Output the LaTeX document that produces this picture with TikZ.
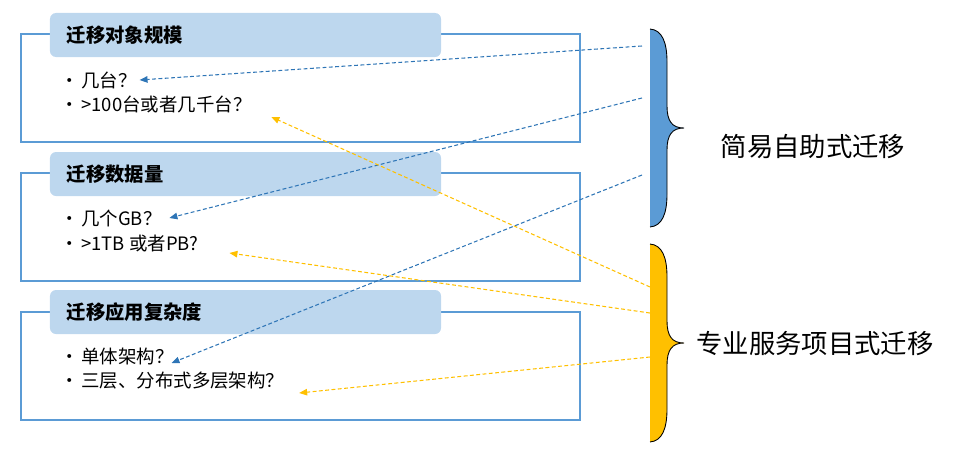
\documentclass[tikz,border=0pt]{standalone}
\usepackage{fontspec}
\setmainfont{Noto Sans CJK SC}
\usetikzlibrary{arrows.meta}
\definecolor{colbox}{HTML}{5B9BD5}
\definecolor{coltit}{HTML}{BDD7EE}
\definecolor{colln}{HTML}{2E75B6}
\definecolor{colgd}{HTML}{FFC000}
\tikzset{
  obox/.style={draw=colbox, line width=0.7pt, fill=none,
               minimum width=111.8mm, minimum height=21.6mm, inner sep=0pt},
  tbox/.style={fill=coltit, rounded corners=1.2mm, draw=none,
               minimum width=78.2mm, minimum height=8.8mm, inner xsep=3.4mm,
               text width=71.4mm, align=left,
               font=\fontsize{11}{13}\selectfont\bfseries},
  item/.style={anchor=west, inner ysep=0pt, inner xsep=1.5mm,
               font=\fontsize{10.5}{13}\selectfont},
  blbl/.style={font=\fontsize{15}{18}\selectfont},
  brc/.style={fill=#1},
  brl/.style={draw=black, line width=0.5pt},
  dar/.style={-{Triangle[length=1.6mm, width=1.3mm]}, #1,
              line width=0.6pt, dash pattern=on 2.2pt off 1.4pt},
}
\newcommand\bul{\makebox[4.2mm][l]{\textbullet}}
\def\Xbox{300.5}
\def\Xtit{245.5}
\def\Xitm{52.5}

\begin{document}
\begin{tikzpicture}[x=0.2mm, y=-0.2mm]
\useasboundingbox (0,0) rectangle (970,448);

%% ============================================================
%% LEFT: THREE QUESTION BOXES
%% ============================================================

%% --- 1. object scale ---
\node[obox] (box1) at (\Xbox, 88) {};
\node[tbox] (t1) at (\Xtit, 35) {迁移对象规模};
\node[item] (b11) at (\Xitm, 80)  {\bul 几台？};
\node[item] (b12) at (\Xitm, 104) {\bul >100台或者几千台？};

%% --- 2. data volume ---
\node[obox] (box2) at (\Xbox, 227) {};
\node[tbox] (t2) at (\Xtit, 174) {迁移数据量};
\node[item] (b21) at (\Xitm, 218) {\bul 几个GB？};
\node[item] (b22) at (\Xitm, 243) {\bul >1TB 或者PB?};

%% --- 3. application complexity ---
\node[obox] (box3) at (\Xbox, 366) {};
\node[tbox] (t3) at (\Xtit, 312) {迁移应用复杂度};
\node[item] (b31) at (\Xitm, 356) {\bul 单体架构？};
\node[item] (b32) at (\Xitm, 381) {\bul 三层、分布式多层架构？};


%% ============================================================
%% RIGHT: TWO BRACES + LABELS
%% ============================================================

%% blue brace, tip at y = 128
\fill[brc=colbox] (650,29) .. controls (662,30) and (667,42) .. (667,62)
  -- (667,106) .. controls (667,121) and (672,128) .. (684,128)
  .. controls (672,128) and (667,135) .. (667,150)
  -- (667,194) .. controls (667,214) and (662,226) .. (650,227) -- cycle;
\draw[brl] (650,29) .. controls (662,30) and (667,42) .. (667,62)
  -- (667,106) .. controls (667,121) and (672,128) .. (684,128)
  .. controls (672,128) and (667,135) .. (667,150)
  -- (667,194) .. controls (667,214) and (662,226) .. (650,227);
\node[blbl] (lblS) at (813, 147) {简易自助式迁移};

%% yellow brace, tip at y = 343
\fill[brc=colgd] (650,244) .. controls (662,245) and (667,257) .. (667,277)
  -- (667,321) .. controls (667,336) and (672,343) .. (684,343)
  .. controls (672,343) and (667,350) .. (667,365)
  -- (667,409) .. controls (667,429) and (662,441) .. (650,442) -- cycle;
\draw[brl] (650,244) .. controls (662,245) and (667,257) .. (667,277)
  -- (667,321) .. controls (667,336) and (672,343) .. (684,343)
  .. controls (672,343) and (667,350) .. (667,365)
  -- (667,409) .. controls (667,429) and (662,441) .. (650,442);
\node[blbl] (lblP) at (815, 344) {专业服务项目式迁移};

%% arrow start points at the braces
\coordinate (s1) at (642, 46);
\coordinate (s2) at (642, 98);
\coordinate (s3) at (642, 175);
\coordinate (p1) at (650, 287);
\coordinate (p2) at (650, 313);
\coordinate (p3) at (650, 357);


%% ============================================================
%% DASHED CONNECTORS
%% ============================================================
\draw[dar=colln] (s1) -- ([xshift=-1mm]b11.east);
\draw[dar=colln] (s2) -- (b21.east);
\draw[dar=colln] (s3) -- ([shift={(-10,7)}]b31.east);

\draw[dar=colgd] (p1) -- ([shift={(12,13)}]b12.east);
\draw[dar=colgd] (p2) -- ([shift={(23,10)}]b22.east);
\draw[dar=colgd] (p3) -- ([shift={(7,12)}]b32.east);

\end{tikzpicture}
\end{document}
